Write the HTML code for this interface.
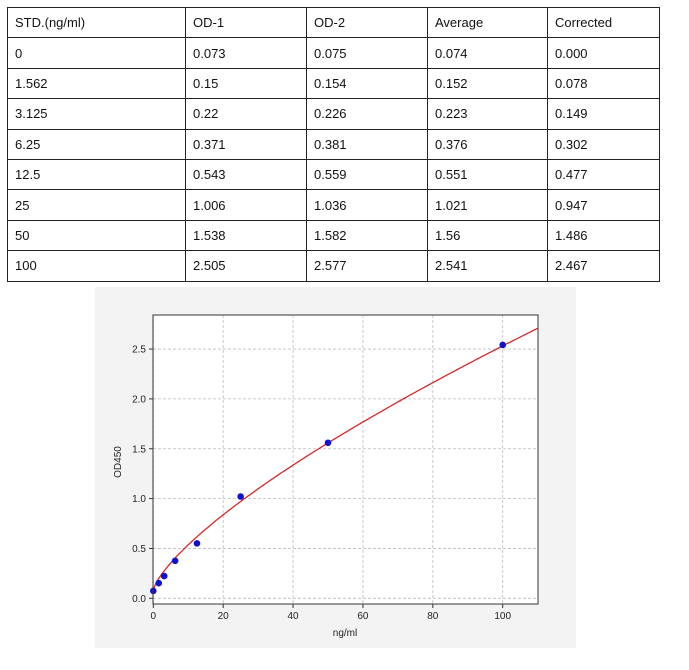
<!DOCTYPE html>
<html><head><meta charset="utf-8"><style>
body{margin:0;background:#fff;width:689px;height:670px;position:relative;font-family:"Liberation Sans",sans-serif;}
table{position:absolute;left:7px;top:7px;border-collapse:collapse;font-size:13px;color:#111;}
td{border:1px solid #222;height:30.4px;padding:0 0 0 7px;box-sizing:border-box;}
</style></head><body>
<table>
<tr><td style="width:178px">STD.(ng/ml)</td><td style="width:121px">OD-1</td><td style="width:121px">OD-2</td><td style="width:120px">Average</td><td style="width:112px">Corrected</td></tr>
<tr><td>0</td><td>0.073</td><td>0.075</td><td>0.074</td><td>0.000</td></tr>
<tr><td>1.562</td><td>0.15</td><td>0.154</td><td>0.152</td><td>0.078</td></tr>
<tr><td>3.125</td><td>0.22</td><td>0.226</td><td>0.223</td><td>0.149</td></tr>
<tr><td>6.25</td><td>0.371</td><td>0.381</td><td>0.376</td><td>0.302</td></tr>
<tr><td>12.5</td><td>0.543</td><td>0.559</td><td>0.551</td><td>0.477</td></tr>
<tr><td>25</td><td>1.006</td><td>1.036</td><td>1.021</td><td>0.947</td></tr>
<tr><td>50</td><td>1.538</td><td>1.582</td><td>1.56</td><td>1.486</td></tr>
<tr><td>100</td><td>2.505</td><td>2.577</td><td>2.541</td><td>2.467</td></tr>
</table>
<svg id="c" width="689" height="670" style="position:absolute;left:0;top:0" font-family="Liberation Sans, sans-serif">
<rect x="95" y="287" width="481" height="361" fill="#f3f3f3"/>
<rect x="153" y="315" width="385" height="289" fill="#fff"/>
<g id="g"></g>
<rect x="153" y="315" width="385" height="289" fill="none" stroke="#333" stroke-width="1"/>
<text x="345" y="636" font-size="10" fill="#222" text-anchor="middle">ng/ml</text>
<text transform="translate(121,462) rotate(-90)" font-size="10" fill="#222" text-anchor="middle">OD450</text>
</svg>
<script>
var g=document.getElementById('g'),s='';
function X(v){return 153.3+v*3.494}function Y(v){return 598.3-v*99.7}
for(var i=0;i<=100;i+=20){var x=X(i);s+='<line x1="'+x+'" y1="315" x2="'+x+'" y2="604" stroke="#bbb" stroke-dasharray="3,2" stroke-width="0.8"/>';
s+='<line x1="'+x+'" y1="604" x2="'+x+'" y2="608" stroke="#333"/><text x="'+x+'" y="619" font-size="10" fill="#222" text-anchor="middle">'+i+'</text>';}
for(var j=0;j<=5;j++){var v=j*0.5,y=Y(v);s+='<line x1="153" y1="'+y+'" x2="538" y2="'+y+'" stroke="#bbb" stroke-dasharray="3,2" stroke-width="0.8"/>';
s+='<line x1="149" y1="'+y+'" x2="153" y2="'+y+'" stroke="#333"/><text x="146" y="'+(y+3.5)+'" font-size="10" fill="#222" text-anchor="end">'+v.toFixed(1)+'</text>';}
var p=[];for(var t=0;t<=110;t+=0.5){p.push(X(t).toFixed(1)+','+Y(0.08+0.085*Math.pow(t,0.73)).toFixed(1));}
s+='<polyline points="'+p.join(' ')+'" fill="none" stroke="#d62728" stroke-width="1.3"/>';
var d=[[0,0.074],[1.562,0.152],[3.125,0.223],[6.25,0.376],[12.5,0.551],[25,1.021],[50,1.56],[100,2.541]];
d.forEach(function(q){s+='<circle cx="'+X(q[0])+'" cy="'+Y(q[1])+'" r="3.3" fill="#1010d0"/>';});
g.innerHTML=s;
</script>
</body></html>
